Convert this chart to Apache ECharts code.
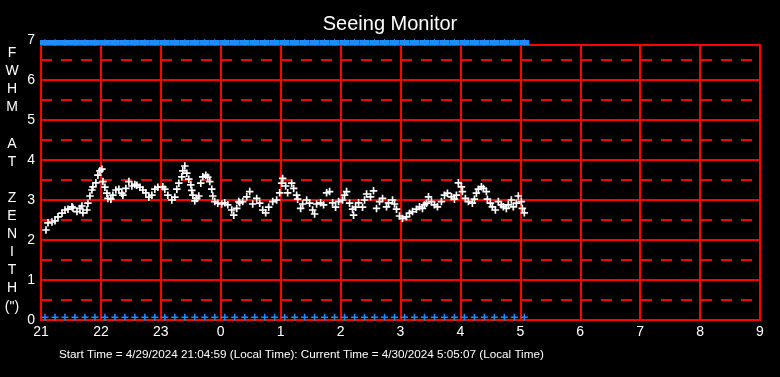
<!DOCTYPE html>
<html>
<head>
<meta charset="utf-8">
<script src="https://cdn.jsdelivr.net/npm/echarts@6/dist/echarts.min.js"></script>
<style>
html,body{margin:0;padding:0;background:#000;}
#chart{width:780px;height:377px;}
</style>
</head>
<body>
<div id="chart"></div>
<script>
// Hour labels (axis runs 21:00 -> 09:00, 60 minutes per tick)
const hourLabels = ['21','22','23','0','1','2','3','4','5','6','7','8','9'];
// Sample times, minutes after 21:00
const sampleTimes = [5,7,11,14,17,21,24,27,31,32,36,39,41,42,46,47,49,51,52,55,57,59,61,62,64,66,67,70,72,75,78,81,82,85,88,91,94,96,99,102,105,108,111,114,117,122,124,127,131,134,136,138,141,142,144,146,148,150,151,152,154,156,158,160,162,165,167,169,171,172,174,177,181,184,187,191,193,196,198,199,202,206,209,212,216,219,222,225,228,232,236,239,241,242,245,247,251,253,256,257,260,262,266,269,272,274,276,280,283,286,289,292,295,298,302,304,306,309,312,313,315,318,322,324,326,330,333,336,339,342,346,348,352,354,356,359,362,366,369,372,376,379,382,384,386,388,391,394,397,401,404,407,411,414,416,418,421,422,425,428,432,434,436,438,441,443,446,447,450,452,455,458,461,463,466,468,471,473,476,478,481,482,484];
// FWHM at zenith (arcsec)
const fwhmValues = [2.25,2.43,2.45,2.48,2.58,2.67,2.75,2.77,2.83,2.8,2.71,2.79,2.85,2.68,2.75,2.92,3.1,3.25,3.33,3.43,3.62,3.73,3.77,3.46,3.32,3.17,3.04,3.02,3.12,3.25,3.27,3.17,3.12,3.29,3.46,3.35,3.39,3.37,3.32,3.25,3.18,3.07,3.12,3.27,3.32,3.33,3.27,3.12,3.0,3.07,3.27,3.42,3.58,3.73,3.85,3.67,3.52,3.38,3.24,3.12,2.98,3.04,3.1,3.42,3.58,3.62,3.57,3.46,3.27,3.1,2.96,2.92,2.9,2.93,2.88,2.75,2.62,2.79,2.96,2.93,2.96,3.08,3.21,2.9,3.04,2.92,2.75,2.68,2.82,2.96,3.0,3.18,3.42,3.54,3.35,3.18,3.42,3.29,3.12,3.02,2.79,2.9,3.0,2.92,2.75,2.65,2.9,2.93,2.88,3.18,3.21,2.93,2.82,2.96,3.0,3.12,3.21,2.92,2.77,2.62,2.82,2.93,2.82,3.0,3.15,3.08,3.23,2.79,2.96,3.04,2.83,2.93,3.0,2.9,2.77,2.6,2.54,2.58,2.67,2.71,2.77,2.83,2.79,2.88,2.92,3.08,2.96,2.88,2.83,2.96,3.12,3.17,3.08,3.02,3.12,3.43,3.33,3.21,3.04,2.96,2.92,3.02,3.17,3.27,3.33,3.29,3.21,3.02,2.92,2.83,2.75,2.96,2.88,2.83,2.79,2.88,3.0,2.83,2.92,3.1,2.96,2.79,2.68];
// Blue status markers, minutes after 21:00
const markerTimes = [4,14,24,34,44,54,64,74,84,94,104,114,124,134,144,154,164,174,184,194,204,214,224,234,244,254,264,274,284,294,304,314,324,334,344,354,364,374,384,394,404,414,424,434,444,454,464,474,484];
const topMarkerLevel = 6.94;
const bottomMarkerLevel = 0.07;
const yTickLabels = ['0','1','2','3','4','5','6','7'];

const RED = '#ff0000';
const FONT = 'Liberation Sans, Arial, sans-serif';
const plusPath = 'path://M3.5,0H5.5V3.5H9V5.5H5.5V9H3.5V5.5H0V3.5H3.5Z';
const barPlusPath = 'path://M0,1H4.5V0H5.5V1H10V6H5.5V7H4.5V6H0Z';

const chart = echarts.init(document.getElementById('chart'), null, {renderer:'canvas'});
chart.setOption({
  backgroundColor: '#000',
  animation: false,
  title: {
    text: 'Seeing Monitor',
    left: 'center',
    top: 9,
    textStyle: {color:'#fff', fontSize:20, fontWeight:'normal', fontFamily: FONT}
  },
  graphic: [{
    type: 'text',
    left: 59,
    top: 349,
    style: {
      text: 'Start Time = 4/29/2024 21:04:59 (Local Time): Current Time = 4/30/2024 5:05:07 (Local Time)',
      fill: '#fff',
      font: '11.7px ' + FONT
    }
  }],
  grid: [
    {left: 41, top: 45, width: 719, height: 275, show: true, borderColor: RED, borderWidth: 2, backgroundColor: 'transparent'},
    {left: 41, top: 40, width: 719, height: 280, show: false}
  ],
  xAxis: [
    {
      gridIndex: 0, type: 'value', min: 0, max: 720, interval: 60,
      axisLine: {show: true, lineStyle: {color: RED, width: 2}},
      axisTick: {show: false},
      splitLine: {show: true, lineStyle: {color: RED, width: 2}},
      axisLabel: {
        color: '#fff', fontSize: 14, fontFamily: FONT, margin: 5,
        formatter: v => hourLabels[Math.round(v / 60)]
      }
    },
    {
      gridIndex: 1, type: 'value', min: 0, max: 720, show: false,
      splitLine: {show: false}
    }
  ],
  yAxis: [
    {
      gridIndex: 0, type: 'value', min: 0, max: 6.875, interval: 1,
      axisLine: {show: true, lineStyle: {color: RED, width: 2}},
      axisTick: {show: false},
      axisLabel: {show: false},
      splitLine: {show: true, lineStyle: {color: RED, width: 2}},
      minorTick: {show: false, splitNumber: 2},
      minorSplitLine: {show: true, lineStyle: {color: RED, width: 2, type: [11, 9]}}
    },
    {
      gridIndex: 1, type: 'value', min: 0, max: 7, interval: 1,
      axisLine: {show: false},
      axisTick: {show: false},
      splitLine: {show: false},
      axisLabel: {
        color: '#fff', fontSize: 14, fontFamily: FONT, margin: 6,
        formatter: v => yTickLabels[Math.round(v)]
      },
      name: 'F\nW\nH\nM\n\nA\nT\n\nZ\nE\nN\nI\nT\nH\n(")',
      nameLocation: 'middle',
      nameGap: 29,
      nameRotate: 0,
      nameTextStyle: {color: '#fff', fontSize: 14, fontFamily: FONT, lineHeight: 18.1, align: 'center', verticalAlign: 'middle', padding: [3, 0, 0, 0]}
    }
  ],
  series: [
    {
      type: 'scatter', xAxisIndex: 1, yAxisIndex: 1,
      data: sampleTimes.map((t, i) => [t, fwhmValues[i]]),
      symbol: plusPath, symbolSize: 7.5,
      itemStyle: {color: '#fff', opacity: 1},
      clip: false, z: 5
    },
    {
      type: 'scatter', xAxisIndex: 1, yAxisIndex: 1,
      data: markerTimes.map(t => [t, topMarkerLevel]),
      symbol: barPlusPath, symbolSize: [10, 7],
      itemStyle: {color: '#1e8cff', opacity: 1},
      clip: false, z: 4
    },
    {
      type: 'scatter', xAxisIndex: 1, yAxisIndex: 1,
      data: markerTimes.map(t => [t, bottomMarkerLevel]),
      symbol: plusPath, symbolSize: 7,
      itemStyle: {color: '#1e8cff', opacity: 1},
      clip: false, z: 4
    }
  ]
});
</script>
</body>
</html>
